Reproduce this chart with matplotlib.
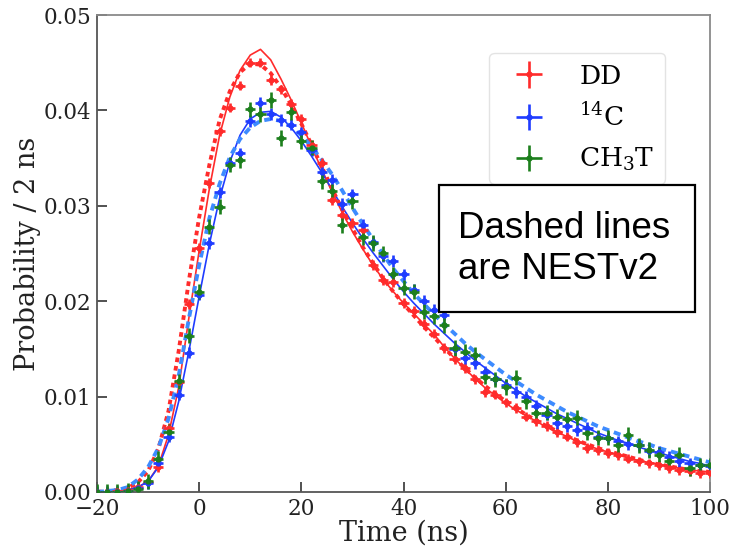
import matplotlib
matplotlib.use("Agg")
import matplotlib.pyplot as plt
from matplotlib.patches import Rectangle

# time bins (ns), 2 ns wide
time_ns = list(range(-20, 101, 2))

# measured pulse shapes
dd_data = [0.0000, 0.0000, 0.0001, 0.0002, 0.0005, 0.0010, 0.0026, 0.0067, 0.0115, 0.0197,
           0.0256, 0.0324, 0.0378, 0.0403, 0.0426, 0.0450, 0.0450, 0.0432, 0.0422, 0.0407,
           0.0391, 0.0364, 0.0345, 0.0306, 0.0290, 0.0282, 0.0275, 0.0238, 0.0222, 0.0220,
           0.0198, 0.0190, 0.0176, 0.0166, 0.0151, 0.0139, 0.0130, 0.0118, 0.0105, 0.0102,
           0.0094, 0.0088, 0.0079, 0.0074, 0.0069, 0.0063, 0.0058, 0.0052, 0.0046, 0.0044,
           0.0041, 0.0039, 0.0035, 0.0032, 0.0030, 0.0028, 0.0025, 0.0023, 0.0022, 0.0020,
           0.0020]
c14_data = [0.0000, 0.0000, 0.0000, 0.0001, 0.0004, 0.0009, 0.0030, 0.0058, 0.0102, 0.0146,
            0.0207, 0.0261, 0.0314, 0.0345, 0.0355, 0.0389, 0.0408, 0.0396, 0.0390, 0.0385,
            0.0377, 0.0358, 0.0335, 0.0327, 0.0302, 0.0312, 0.0280, 0.0262, 0.0247, 0.0242,
            0.0228, 0.0212, 0.0200, 0.0191, 0.0186, 0.0150, 0.0140, 0.0135, 0.0126, 0.0118,
            0.0112, 0.0105, 0.0100, 0.0090, 0.0081, 0.0072, 0.0069, 0.0065, 0.0067, 0.0058,
            0.0057, 0.0053, 0.0050, 0.0049, 0.0043, 0.0042, 0.0037, 0.0032, 0.0030, 0.0028,
            0.0027]
ch3t_data = [0.0000, 0.0000, 0.0000, 0.0001, 0.0003, 0.0011, 0.0035, 0.0063, 0.0116, 0.0164,
             0.0210, 0.0278, 0.0299, 0.0343, 0.0348, 0.0401, 0.0396, 0.0411, 0.0371, 0.0398,
             0.0368, 0.0361, 0.0326, 0.0315, 0.0280, 0.0305, 0.0267, 0.0261, 0.0250, 0.0228,
             0.0214, 0.0210, 0.0189, 0.0184, 0.0175, 0.0151, 0.0147, 0.0144, 0.0121, 0.0118,
             0.0110, 0.0120, 0.0095, 0.0083, 0.0083, 0.0079, 0.0076, 0.0078, 0.0062, 0.0057,
             0.0057, 0.0049, 0.0060, 0.0049, 0.0044, 0.0039, 0.0032, 0.0039, 0.0025, 0.0028,
             0.0028]

# fitted models (solid)
dd_fit = [0.0000, 0.0000, 0.0001, 0.0002, 0.0005, 0.0011, 0.0027, 0.0060, 0.0110, 0.0183,
          0.0253, 0.0318, 0.0374, 0.0414, 0.0442, 0.0458, 0.0464, 0.0453, 0.0433, 0.0411,
          0.0387, 0.0362, 0.0338, 0.0315, 0.0293, 0.0273, 0.0255, 0.0238, 0.0223, 0.0210,
          0.0198, 0.0187, 0.0176, 0.0165, 0.0152, 0.0140, 0.0129, 0.0119, 0.0109, 0.0101,
          0.0093, 0.0086, 0.0080, 0.0074, 0.0068, 0.0063, 0.0058, 0.0053, 0.0049, 0.0045,
          0.0042, 0.0039, 0.0036, 0.0033, 0.0031, 0.0029, 0.0027, 0.0025, 0.0023, 0.0022,
          0.0021]
c14_fit = [0.0000, 0.0000, 0.0001, 0.0002, 0.0005, 0.0011, 0.0026, 0.0053, 0.0095, 0.0148,
           0.0205, 0.0260, 0.0308, 0.0346, 0.0374, 0.0391, 0.0398, 0.0399, 0.0393, 0.0382,
           0.0368, 0.0352, 0.0335, 0.0317, 0.0299, 0.0282, 0.0266, 0.0251, 0.0237, 0.0223,
           0.0210, 0.0198, 0.0187, 0.0176, 0.0166, 0.0156, 0.0147, 0.0138, 0.0130, 0.0122,
           0.0114, 0.0107, 0.0100, 0.0094, 0.0088, 0.0082, 0.0077, 0.0072, 0.0067, 0.0062,
           0.0058, 0.0054, 0.0051, 0.0047, 0.0044, 0.0041, 0.0038, 0.0035, 0.0032, 0.0030,
           0.0027]

# NESTv2 predictions (dashed)
dd_nest = [0.0000, 0.0001, 0.0002, 0.0004, 0.0010, 0.0022, 0.0045, 0.0085, 0.0148, 0.0222,
           0.0288, 0.0343, 0.0390, 0.0420, 0.0440, 0.0449, 0.0448, 0.0439, 0.0424, 0.0406,
           0.0386, 0.0364, 0.0341, 0.0318, 0.0296, 0.0276, 0.0257, 0.0240, 0.0224, 0.0210,
           0.0197, 0.0185, 0.0173, 0.0162, 0.0151, 0.0140, 0.0130, 0.0120, 0.0111, 0.0103,
           0.0095, 0.0088, 0.0081, 0.0075, 0.0069, 0.0064, 0.0059, 0.0054, 0.0050, 0.0046,
           0.0043, 0.0040, 0.0037, 0.0034, 0.0031, 0.0029, 0.0027, 0.0025, 0.0023, 0.0022,
           0.0021]
c14_nest = [0.0000, 0.0001, 0.0002, 0.0005, 0.0013, 0.0026, 0.0046, 0.0077, 0.0122, 0.0182,
            0.0238, 0.0287, 0.0323, 0.0351, 0.0370, 0.0382, 0.0389, 0.0391, 0.0389, 0.0383,
            0.0374, 0.0362, 0.0348, 0.0333, 0.0316, 0.0298, 0.0281, 0.0265, 0.0249, 0.0234,
            0.0221, 0.0208, 0.0197, 0.0186, 0.0176, 0.0166, 0.0156, 0.0147, 0.0139, 0.0131,
            0.0123, 0.0116, 0.0109, 0.0102, 0.0096, 0.0090, 0.0084, 0.0079, 0.0074, 0.0069,
            0.0065, 0.0061, 0.0057, 0.0053, 0.0050, 0.0046, 0.0043, 0.0040, 0.0037, 0.0034,
            0.0031]

red = '#ff2b2b'
blue = '#1f3cff'
green = '#1c7f1c'
light_blue = '#3d8bff'

plt.rcParams['font.family'] = 'DejaVu Serif'
plt.rcParams['mathtext.fontset'] = 'dejavuserif'

fig = plt.figure(figsize=(7.31, 5.5), dpi=100)
ax = fig.add_axes([0.1327, 0.1055, 0.8386, 0.8672])

# model lines
ax.plot(time_ns, dd_fit, color=red, lw=1.2, zorder=2)
ax.plot(time_ns, c14_fit, color=blue, lw=1.2, zorder=2)
ax.plot(time_ns, dd_nest, color=red, lw=2.8, dashes=(1.2, 1.0), zorder=2)
ax.plot(time_ns, c14_nest, color=light_blue, lw=2.8, dashes=(1.8, 1.3), zorder=2)

# data points
ax.errorbar(time_ns, dd_data, xerr=1, yerr=0.0005, fmt='o', ms=3.5, color=red,
            elinewidth=1.9, capsize=0, label='DD', zorder=3)
ax.errorbar(time_ns, c14_data, xerr=1, yerr=0.0006, fmt='o', ms=3.5, color=blue,
            elinewidth=1.9, capsize=0, label=r'$^{14}$C', zorder=3)
ax.errorbar(time_ns, ch3t_data, xerr=1, yerr=0.0008, fmt='o', ms=3.5, color=green,
            elinewidth=1.9, capsize=0, label=r'CH$_3$T', zorder=3)

ax.set_xlim(-20, 100)
ax.set_ylim(0, 0.05)
ax.set_xticks([-20, 0, 20, 40, 60, 80, 100])
ax.set_yticks([0.00, 0.01, 0.02, 0.03, 0.04, 0.05])
ax.set_yticklabels(['0.00', '0.01', '0.02', '0.03', '0.04', '0.05'])
ax.tick_params(direction='in', length=7.5, width=1.2, labelsize=15.5, colors='#333333',
               labelcolor='#222222', pad=4)
for s in ax.spines.values():
    s.set_color('#8a8a8a')
    s.set_linewidth(1.3)
ax.spines['left'].set_color('#555555')
ax.spines['bottom'].set_color('#555555')

ax.set_xlabel('Time (ns)', fontsize=19.5, color='#222222', labelpad=0)
ax.set_ylabel('Probability / 2 ns', fontsize=19.5, color='#222222', labelpad=2)

leg = ax.legend(loc='upper right', bbox_to_anchor=(0.9266, 0.9203), borderaxespad=0,
                fontsize=19, labelspacing=0.56, handlelength=2.2, handletextpad=0.8,
                borderpad=0.4, fancybox=True, framealpha=0.8, edgecolor='#dddddd')

# annotation box
fig.patches.append(Rectangle((0.6005, 0.4327), 0.3502, 0.2309, transform=fig.transFigure,
                             facecolor='white', edgecolor='black', lw=1.6, zorder=5))
fig.text(0.6265, 0.547, 'Dashed lines\nare NESTv2', family='Liberation Sans',
         fontsize=26.5, ha='left', va='center', linespacing=1.24, zorder=6)

plt.savefig('out.png', dpi=100)
